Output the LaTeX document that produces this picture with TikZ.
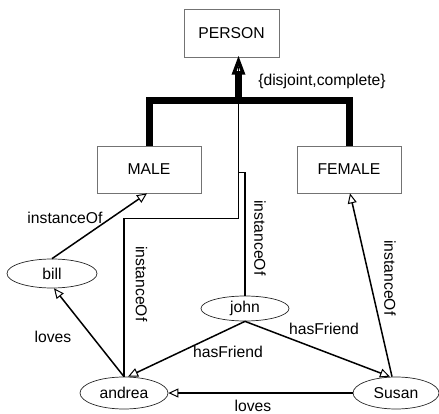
\documentclass[tikz,border=0pt]{standalone}
\usepackage{fontspec}
\setmainfont{Liberation Sans}
\usetikzlibrary{arrows.meta,shapes.geometric}
\begin{document}
\begin{tikzpicture}[x=1pt,y=-1pt,
  every node/.style={font=\fontsize{15.7pt}{18pt}\selectfont},
  classbox/.style={draw=black!55,line width=0.8pt,rectangle,inner sep=0pt},
  indiv/.style={draw=black!85,line width=0.7pt,ellipse,inner sep=0pt},
  conn/.style={line width=1.5pt,black},
  openarrow/.style={conn,-{Triangle[open,length=10pt,width=9pt,line width=1pt]}},
  hier/.style={line width=7pt,line join=miter},
  lbl/.style={inner sep=1pt}
]
\useasboundingbox (0,0) rectangle (439,414);
% classes
\node[classbox,minimum width=95pt,minimum height=48pt] (person) at (231.5,33) {PERSON};
\node[classbox,minimum width=104pt,minimum height=47pt] (male) at (149,169.5) {MALE};
\node[classbox,minimum width=104pt,minimum height=47pt] (female) at (349,169.5) {FEMALE};
% individuals
\node[indiv,minimum width=90pt,minimum height=29pt] (bill) at (52,273.5) {bill};
\node[indiv,minimum width=88pt,minimum height=25pt] (john) at (245,308.5) {john};
\node[indiv,minimum width=88pt,minimum height=32pt] (andrea) at (124,393) {andrea};
\node[indiv,minimum width=86pt,minimum height=32pt] (susan) at (396,393) {Susan};
% hierarchy
\coordinate (tri) at (238.5,73);
\coordinate (bar) at (238.5,101);
\draw[hier] (male.north) |- (bar) -| (female.north);
\draw[hier] (bar) -- (tri);
% instanceOf lines to PERSON
\draw[conn] (andrea.north) -- ++(0,-158) -| (tri);
\draw[conn] (john.north) -- ++(0,-123) -| (tri);
% generalisation arrowhead
\draw[line width=3.5pt,line join=miter,fill=white] (238.5,61) -- (234,73) -- (243,73) -- cycle;
\draw[conn] (tri) -- ++(0,-6);
\node at (322,81) (dc) {\{disjoint,complete\}};
% instanceOf arrows
\draw[openarrow] (bill.north) -- ([xshift=-2pt]male.south);
\draw[openarrow] ([xshift=-4pt]susan.north) -- ([xshift=1pt]female.south);
% relations
\draw[openarrow] (andrea.north) -- ([xshift=2pt]bill.south);
\draw[openarrow] (john.south) -- ([xshift=4pt]andrea.north);
\draw[openarrow] (john.south) -- ([xshift=-6pt]susan.north);
\draw[openarrow] (susan.west) -- (andrea.east);
% labels
\node[lbl] (l1) at (65,218) {instanceOf};
\node[lbl,rotate=-90] (l2) at (141.5,284) {instanceOf};
\node[lbl,rotate=-90] (l3) at (260,238) {instanceOf};
\node[lbl,rotate=-90] (l4) at (390,278) {instanceOf};
\node[lbl] (l5) at (53,337) {loves};
\node[lbl] (l6) at (228,352) {hasFriend};
\node[lbl] (l7) at (324,329) {hasFriend};
\node[lbl] (l8) at (253,406) {loves};
\end{tikzpicture}
\end{document}
